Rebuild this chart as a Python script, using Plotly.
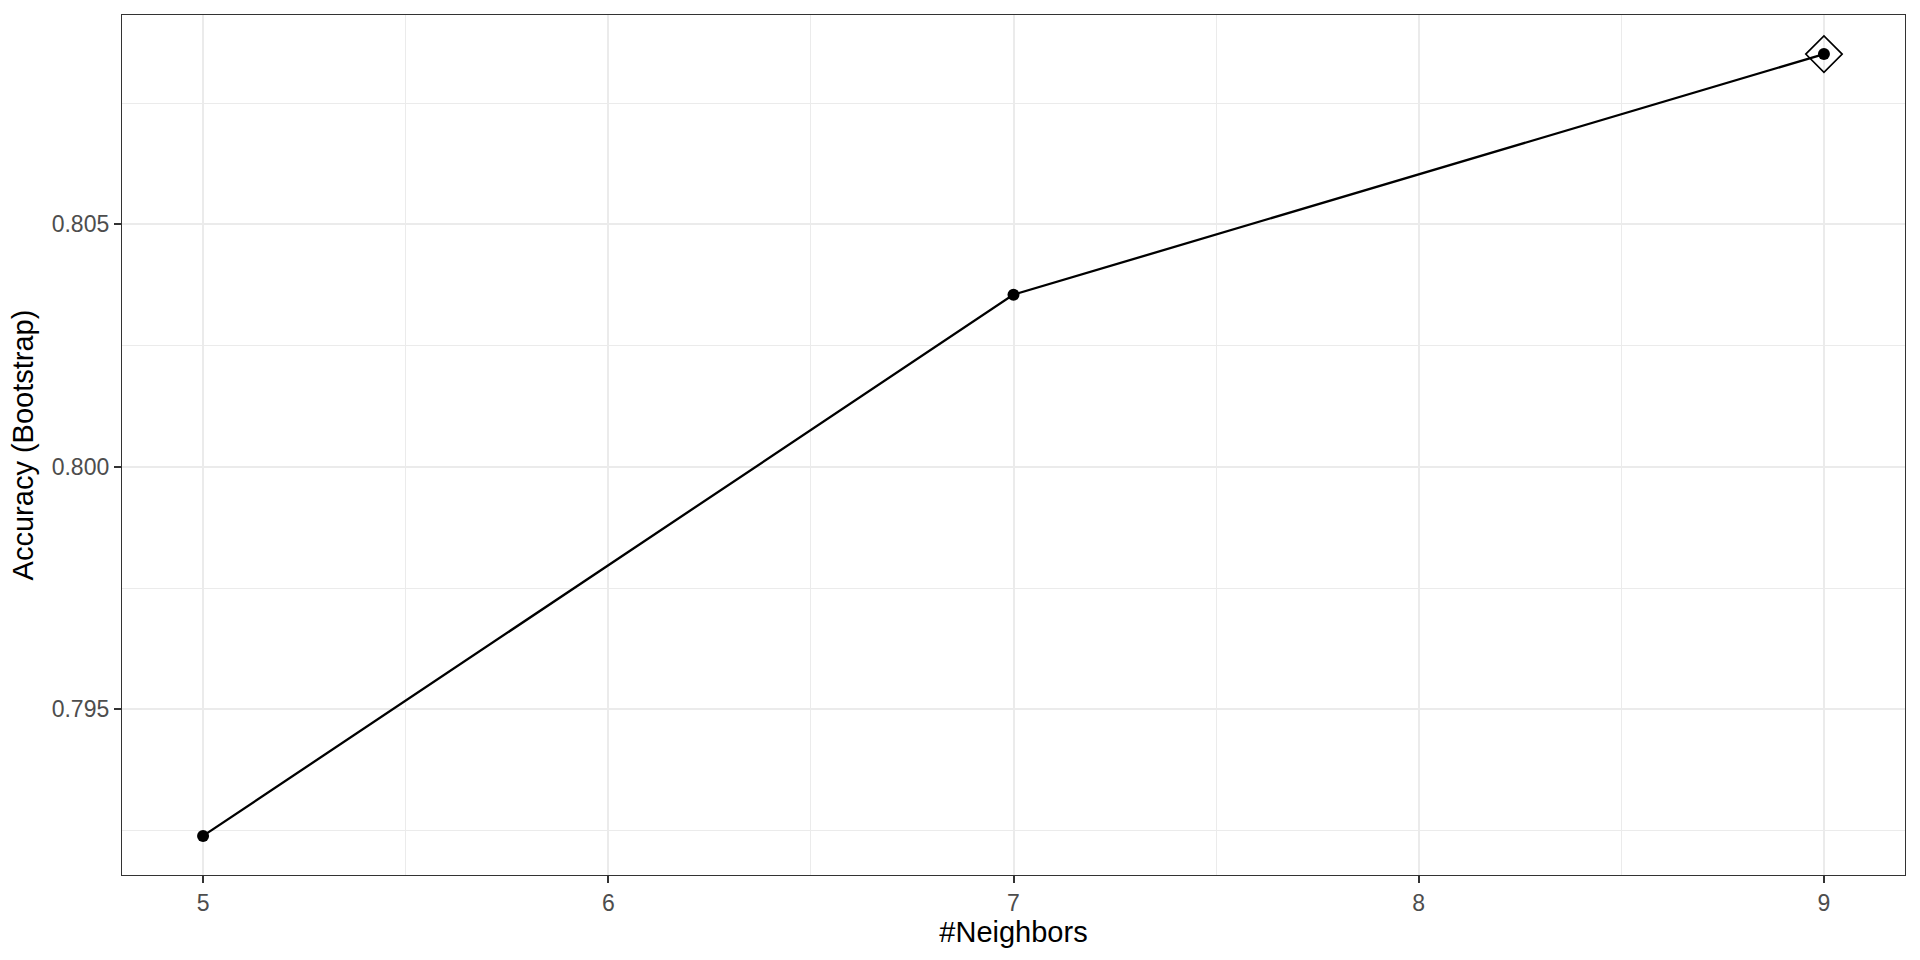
import plotly.graph_objects as go

neighbors = [5, 7, 9]
accuracy = [0.79239, 0.80355, 0.80851]
best_k = [9]
best_acc = [0.80851]

x_ticks = [5, 6, 7, 8, 9]
y_ticks = [0.795, 0.800, 0.805]
y_tick_labels = ["0.795", "0.800", "0.805"]
x_minor = [5.5, 6.5, 7.5, 8.5]
y_minor = [0.7925, 0.7975, 0.8025, 0.8075]

FONT = "Liberation Sans, Arial, Helvetica, sans-serif"

fig = go.Figure()
fig.add_trace(go.Scatter(
    x=neighbors, y=accuracy, mode="lines+markers",
    line=dict(color="black", width=2.3),
    marker=dict(color="black", size=12),
    showlegend=False,
))
fig.add_trace(go.Scatter(
    x=best_k, y=best_acc, mode="markers",
    marker=dict(symbol="diamond-open", size=28, color="black", line=dict(width=1.6, color="black")),
    showlegend=False,
))

xlo = min(neighbors) - 0.05 * (max(neighbors) - min(neighbors))
xhi = max(neighbors) + 0.05 * (max(neighbors) - min(neighbors))
ylo = min(accuracy) - 0.05 * (max(accuracy) - min(accuracy))
yhi = max(accuracy) + 0.05 * (max(accuracy) - min(accuracy))

fig.update_layout(
    width=1920, height=960,
    margin=dict(l=121.5, r=15, t=15, b=85, autoexpand=False),
    paper_bgcolor="white", plot_bgcolor="white",
    font=dict(family=FONT, size=23, color="#4D4D4D"),
    xaxis=dict(
        range=[xlo, xhi], tickvals=x_ticks, ticktext=[str(v) for v in x_ticks],
        showgrid=True, gridcolor="#EBEBEB", gridwidth=2,
        minor=dict(tickvals=x_minor, showgrid=True, gridcolor="#EBEBEB", gridwidth=1, ticks=""),
        ticks="outside", ticklen=7, tickwidth=2, tickcolor="#333333",
        showline=True, linecolor="#333333", linewidth=1.3, mirror=True,
        zeroline=False,
        tickfont=dict(size=23, color="#4D4D4D", family=FONT),
        title=dict(text="#Neighbors", font=dict(size=29, color="black", family=FONT), standoff=5),
    ),
    yaxis=dict(
        range=[ylo, yhi], tickvals=y_ticks, ticktext=y_tick_labels,
        showgrid=True, gridcolor="#EBEBEB", gridwidth=2,
        minor=dict(tickvals=y_minor, showgrid=True, gridcolor="#EBEBEB", gridwidth=1, ticks=""),
        ticks="outside", ticklen=7, tickwidth=2, tickcolor="#333333",
        showline=True, linecolor="#333333", linewidth=1.3, mirror=True,
        zeroline=False,
        tickfont=dict(size=23, color="#4D4D4D", family=FONT),
        title=dict(text="Accuracy (Bootstrap)", font=dict(size=29, color="black", family=FONT), standoff=9),
    ),
)

fig.write_html(
    "out.html",
    config={"displayModeBar": False},
    post_script="document.body.style.margin='0px';document.body.style.overflow='hidden';",
)
